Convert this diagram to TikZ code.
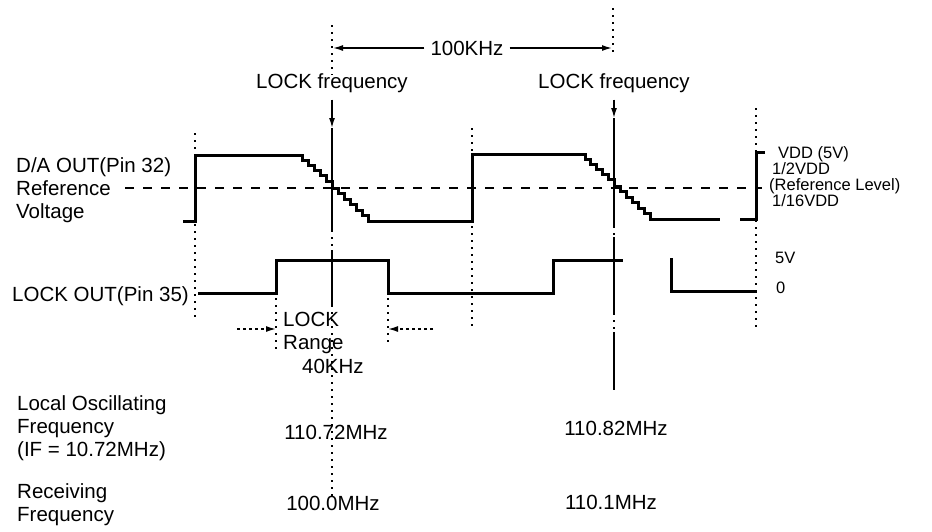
\documentclass[tikz,border=0pt]{standalone}
\usepackage{fontspec}
\setmainfont{Liberation Sans}
\usetikzlibrary{arrows.meta,positioning}
\newcommand{\levelfont}{\fontsize{16.5}{16}\selectfont}

\begin{document}
\begin{tikzpicture}[x=1pt,y=-1pt,
    every node/.style={inner sep=0pt,font=\fontsize{20.5}{23}\selectfont},
    lbl/.style={anchor=north west,align=left},
    levellbl/.style={anchor=north west,align=left,font=\levelfont},
    wave/.style={line width=3pt,line join=miter},
    marker/.style={line width=1.5pt},
    guide/.style={line width=1.5pt,dash pattern=on 2pt off 5pt},
    reflevel/.style={line width=1.4pt,dash pattern=on 9pt off 9pt},
    tip/.style={-{Latex[length=10pt,width=6pt]}}]
  \useasboundingbox (0,0) rectangle (932,531);

  % signal names
  \node[lbl] (daout) at (16,157) {D/A OUT(Pin 32)\\Reference\\Voltage};
  \node[anchor=west] (lockout) at (12,296) {LOCK OUT(Pin 35)};
  \node[lbl] (locosc) at (17,395) {Local Oscillating\\Frequency\\(IF = 10.72MHz)};
  \node[lbl,below=23pt of locosc.south west,anchor=north west] (recv) {Receiving\\Frequency};

  % top markers
  \node (khz) at (467,48) {100KHz};
  \node (lockf1) at (332,83) {LOCK frequency};
  \node (lockf2) at (614,83) {LOCK frequency};
  \coordinate (khzl) at (333,48);
  \coordinate (khzr) at (612,48);
  \coordinate (lf1tip) at (332,128);
  \coordinate (lf2tip) at (614,118);
  \draw[marker,tip,shorten <=6pt] (khz.west) -- (khzl);
  \draw[marker,tip,shorten <=6pt] (khz.east) -- (khzr);
  \draw[marker,tip,shorten <=7pt] (lockf1.south) -- (lf1tip);
  \draw[marker,tip,shorten <=7pt] (lockf2.south) -- (lf2tip);

  % time marks
  \foreach \x/\ya/\yb in {195/133/320, 472/128/327, 756/108/330, 276/298/350,
      388/298/345, 332/25/75, 613/8/53, 332/230/250, 332/305/497,
      614/226/237, 614/313/332}
    \draw[guide] (\x,\ya) -- (\x,\yb);
  \foreach \x/\ya/\yb in {332/128/230, 332/250/305, 614/118/226,
      614/237/313, 614/332/390}
    \draw[marker] (\x,\ya) -- (\x,\yb);

  % D/A output
  \draw[reflevel] (125,188) -- (762,188);
  \draw[wave] (183,221) -- (195,221) -- (195,155) -- (302,155)
    \foreach \s in {1,...,5}{ -- ++(0,5.2) -- ++(6,0)}
    -- (332,188)
    \foreach \s in {1,...,6}{ -- ++(6,0) -- ++(0,5.5)}
    -- (472,221) -- (472,154) -- (585,154)
    \foreach \s in {1,...,5}{ -- ++(0,5) -- ++(5.8,0)}
    -- (614,186)
    \foreach \s in {1,...,6}{ -- ++(6,0) -- ++(0,5.5)}
    -- (720,219);
  \draw[wave] (740,219) -- (756,219) -- (756,152) -- (765,152);
  \node[levellbl] (vdd) at (769,146)
    {\hspace*{9pt}VDD (5V)\\\hspace*{3pt}1/2VDD\\(Reference Level)\\\hspace*{3pt}1/16VDD};

  % lock output
  \draw[wave] (198,293) -- (276,293) -- (276,260) -- (388,260) -- (388,293)
    -- (553,293) -- (553,260) -- (623,260);
  \draw[wave] (671,258) -- (671,291) -- (757,291);
  \node[levellbl,anchor=west] (fivev) at (775,258) {5V};
  \node[levellbl,anchor=west] (zerov) at (776,288) {0};

  % lock range
  \node[lbl] (lockrange) at (283,312) {LOCK\\Range};
  \node[lbl,below right=5pt and 19pt of lockrange.south west,anchor=north west] (range40) {40KHz};
  \coordinate (rngl) at (237,329);
  \coordinate (rngla) at (276,329);
  \coordinate (rngr) at (433,329);
  \coordinate (rngra) at (388,329);
  \draw[marker,tip,dashed] (rngl) -- (rngla);
  \draw[marker,tip,dashed] (rngr) -- (rngra);

  % frequencies
  \node (lo1) at (336,432) {110.72MHz};
  \node (rx1) at (333,503) {100.0MHz};
  \node (lo2) at (616,428) {110.82MHz};
  \node (rx2) at (611,502) {110.1MHz};
\end{tikzpicture}
\end{document}
